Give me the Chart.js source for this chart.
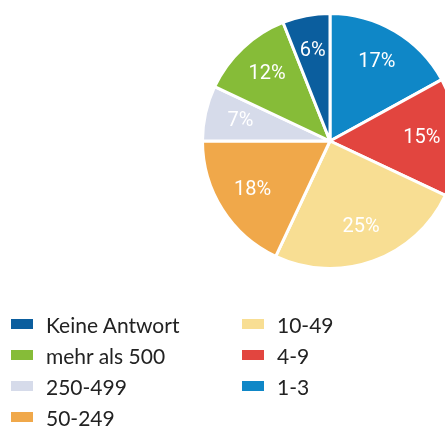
<!DOCTYPE html>
<html>
<head>
<meta charset="utf-8">
<script src="https://cdn.jsdelivr.net/npm/chart.js@4.4.0/dist/chart.umd.min.js"></script>
<style>
  html, body { margin:0; padding:0; background:#fff; width:445px; height:426px; overflow:hidden; }
  #wrap { position:absolute; left:201px; top:12px; width:258px; height:258px; }
  #legend { position:absolute; left:0; top:0; width:445px; height:426px; pointer-events:none; }
  .item { position:absolute; display:flex; align-items:center; font-family:Lato, sans-serif; font-size:21px; color:#222; white-space:nowrap; }
  .sw { width:22px; height:10px; margin-right:13px; }
</style>
</head>
<body>
<div id="wrap"><canvas id="c" width="258" height="258"></canvas></div>
<div id="legend"></div>
<script>
const categories = ["1-3", "4-9", "10-49", "50-249", "250-499", "mehr als 500", "Keine Antwort"];
const values = [17, 15, 25, 18, 7, 12, 6];
const colors = ["#0f87c7", "#e2453f", "#f8de93", "#f0a84a", "#d6dbea", "#86bc38", "#0b5e9e"];

const labelPlugin = {
  id: 'sliceLabels',
  afterDatasetsDraw(chart) {
    const ctx = chart.ctx;
    const meta = chart.getDatasetMeta(0);
    ctx.save();
    ctx.fillStyle = '#fff';
    ctx.font = '20px Roboto, sans-serif';
    ctx.textAlign = 'center';
    ctx.textBaseline = 'middle';
    meta.data.forEach((arc, i) => {
      const p = arc.getProps(['x','y','startAngle','endAngle','outerRadius'], true);
      const mid = (p.startAngle + p.endAngle) / 2;
      const r = p.outerRadius * 0.72;
      ctx.fillText(values[i] + '%', p.x + Math.cos(mid) * r, p.y + Math.sin(mid) * r);
    });
    ctx.restore();
  }
};

const chart = new Chart(document.getElementById('c'), {
  type: 'pie',
  data: {
    labels: categories,
    datasets: [{ data: values, backgroundColor: colors, borderColor: '#fff', borderWidth: 3 }]
  },
  options: {
    responsive: false,
    animation: false,
    layout: { padding: 0 },
    plugins: { legend: { display: false }, tooltip: { enabled: false } }
  },
  plugins: [labelPlugin]
});

// Legend built from chart data (reverse order, two columns)
const legend = document.getElementById('legend');
const order = categories.map((c, i) => i).reverse();
order.forEach((idx, k) => {
  const col = k < 4 ? 0 : 1;
  const row = col === 0 ? k : k - 4;
  const el = document.createElement('div');
  el.className = 'item';
  el.style.left = (col === 0 ? 11 : 242) + 'px';
  el.style.top = (324 - 14 + row * 31) + 'px';
  el.style.height = '28px';
  el.innerHTML = '<span class="sw" style="background:' + colors[idx] + '"></span><span>' + categories[idx] + '</span>';
  legend.appendChild(el);
});
</script>
</body>
</html>
